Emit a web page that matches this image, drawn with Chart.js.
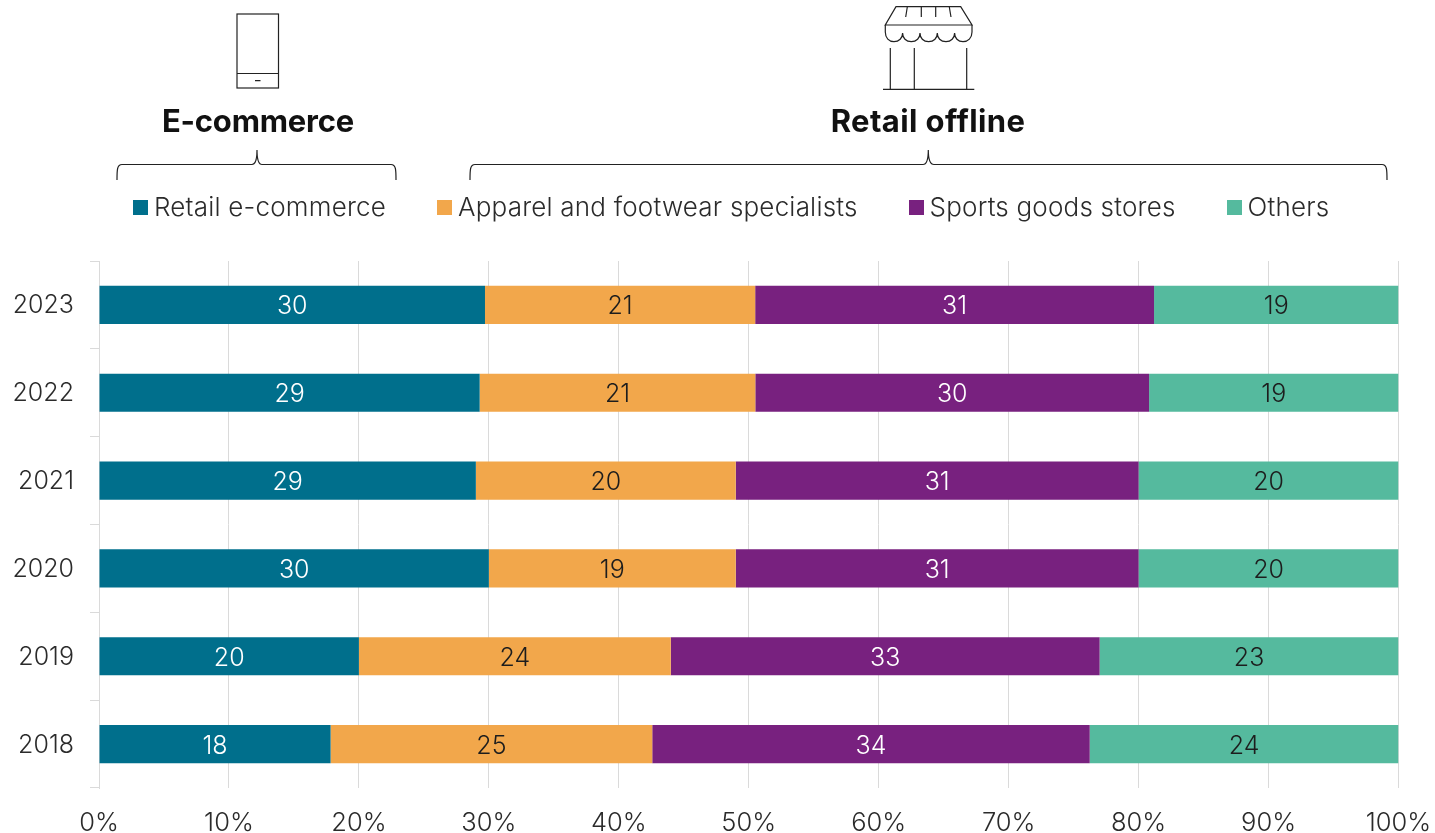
<!DOCTYPE html>
<html>
<head>
<meta charset="utf-8">
<style>
  html, body { margin:0; padding:0; background:#fff; }
  #wrap { position:relative; width:1435px; height:833px; overflow:hidden; font-family:Inter, sans-serif; color:#2b2b2b; }
  canvas { position:absolute; left:0; top:0; }
  svg { position:absolute; left:0; top:0; }
  .group-title { position:absolute; top:102px; line-height:38px; font-size:31px; font-weight:700; color:#111; transform:translateX(-50%); white-space:nowrap; }
  #legend { position:absolute; left:133px; top:190px; display:flex; gap:51px; font-size:26px; font-weight:300; letter-spacing:0.2px; line-height:34px; white-space:nowrap; }
  #legend .item { display:flex; align-items:center; gap:6px; }
  #legend .swatch { width:15px; height:15px; display:inline-block; }
</style>
</head>
<body>
<div id="wrap">
  <canvas id="shareChart" width="1435" height="833"></canvas>
  <svg width="1435" height="833" fill="none" stroke="#222" stroke-width="1.2">
    <!-- phone icon -->
    <rect x="237" y="14" width="41.5" height="74"/>
    <path d="M237 73.5H278.5M255 80.7H260.5"/>
    <!-- shop icon -->
    <path d="M896 6.7H960.7L972 25H885.3ZM907.3 7L905.7 17M921.3 7V17M935.7 7V17M949.3 7L951 17"/>
    <path d="M885.3 25V32C885.3 38 889 41.7 894 41.7C899 41.7 902.6 38 902.6 33C902.6 38 906 41.7 911.3 41.7C916.5 41.7 920 38 920 33C920 38 923.3 41.7 928.6 41.7C934 41.7 937.3 38 937.3 33C937.3 38 940.6 41.7 946 41.7C951 41.7 954.6 38 954.6 33C954.6 38 958 41.7 963 41.7C968 41.7 972 38 972 32V25"/>
    <path d="M890.3 48V89.3M914.3 48V89.3M966.7 48V89.3M883 89.3H974.3"/>
    <!-- group braces -->
    <path d="M117 180C117 170 117 164.5 122 164.5H252C255 164.5 257 162 257 150C257 162 259 164.5 262 164.5H391C396 164.5 396 170 396 180"/>
    <path d="M470 180C470 170 470 164.5 475 164.5H923C926 164.5 928.3 162 928.3 150C928.3 162 931 164.5 934 164.5H1382C1387 164.5 1387 170 1387 180"/>
  </svg>
  <div class="group-title" style="left:258px;letter-spacing:-0.2px">E-commerce</div>
  <div class="group-title" style="left:928px;letter-spacing:0.4px">Retail offline</div>
  <div id="legend"></div>
</div>
<script src="https://cdn.jsdelivr.net/npm/chart.js@4/dist/chart.umd.min.js"></script>
<script>
const years = ['2023','2022','2021','2020','2019','2018'];
const seriesNames = ['Retail e-commerce','Apparel and footwear specialists','Sports goods stores','Others'];
const retailEcommerce = [30,29,29,30,20,18];
const apparelFootwear = [21,21,20,19,24,25];
const sportsGoods = [31,30,31,31,33,34];
const others = [19,19,20,20,23,24];
const xTicks = [0,10,20,30,40,50,60,70,80,90,100];
const colors = ['#006f8c','#f2a74b','#78217f','#55ba9e'];
const labelColors = ['#ffffff','#1d1d1d','#ffffff','#1d1d1d'];

const rows = [retailEcommerce, apparelFootwear, sportsGoods, others];
const FONT = 'Inter, sans-serif';

// rounded labels don't always add up to 100, so stack each year as a share of its own total
const totals = years.map((y,i)=>rows.reduce((sum,r)=>sum+r[i],0));

const legendEl = document.getElementById('legend');
seriesNames.forEach((name,i)=>{
  const item = document.createElement('span'); item.className='item';
  const sw = document.createElement('span'); sw.className='swatch'; sw.style.background = colors[i];
  const txt = document.createElement('span'); txt.innerText = name;
  item.appendChild(sw); item.appendChild(txt); legendEl.appendChild(item);
});

// writes the rounded value in the middle of each segment
const segmentLabels = {
  id:'segmentLabels',
  afterDatasetsDraw(chart){
    const {ctx} = chart;
    ctx.save();
    ctx.font = '300 25px '+FONT;
    ctx.textAlign = 'center';
    ctx.textBaseline = 'middle';
    chart.data.datasets.forEach((ds,d)=>{
      ctx.fillStyle = labelColors[d];
      chart.getDatasetMeta(d).data.forEach((bar,i)=>{
        const p = bar.getProps(['x','base','y']);
        ctx.fillText(String(rows[d][i]), (p.x+p.base)/2, p.y+2);
      });
    });
    ctx.restore();
  }
};

new Chart(document.getElementById('shareChart').getContext('2d'),{
  type:'bar',
  data:{
    labels:years,
    datasets:rows.map((r,d)=>({
      label:seriesNames[d],
      data:r.map((v,i)=>v/totals[i]*100),
      backgroundColor:colors[d],
      borderWidth:0,
      barPercentage:0.435,
      categoryPercentage:1
    }))
  },
  options:{
    indexAxis:'y',
    responsive:false,
    animation:false,
    layout:{padding:{top:261,right:36.5,left:0,bottom:0}},
    plugins:{legend:{display:false},tooltip:{enabled:false}},
    scales:{
      x:{
        stacked:true, min:0, max:100,
        afterBuildTicks(scale){ scale.ticks = xTicks.map(v=>({value:v})); },
        // tick labels may overhang the plot, don't let them shrink it
        afterFit(scale){ scale.height = 45; scale.paddingLeft = 0; scale.paddingRight = 0; },
        grid:{color:'#dadada', lineWidth:1, drawTicks:false},
        border:{display:false},
        ticks:{padding:20, maxRotation:0, color:'#2b2b2b', font:{family:FONT,size:25.5,weight:'300'}, callback:v=>v+'%'}
      },
      y:{
        stacked:true,
        afterFit(scale){ scale.width = 99; },
        grid:{color:'#dadada', lineWidth:1, drawOnChartArea:false, tickLength:9, offset:true},
        border:{display:true, color:'#dadada'},
        ticks:{padding:16, labelOffset:1, color:'#2b2b2b', font:{family:FONT,size:25,weight:'300'}}
      }
    }
  },
  plugins:[segmentLabels]
});
</script>
</body>
</html>
